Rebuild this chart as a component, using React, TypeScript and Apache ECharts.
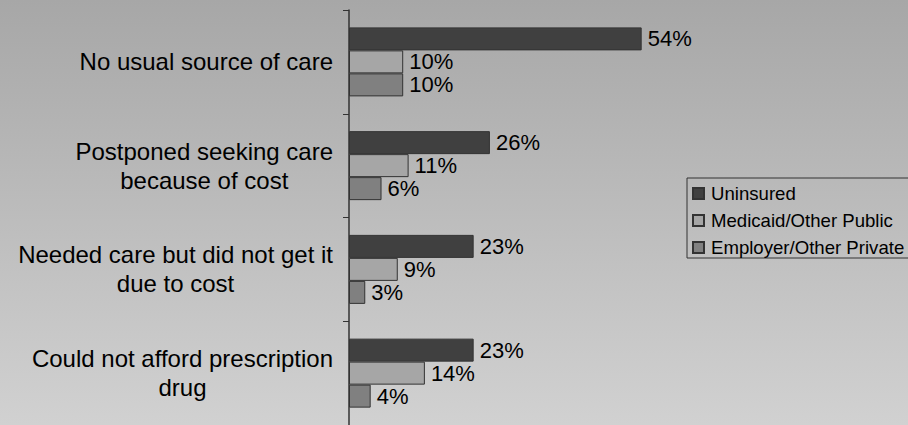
import React, { useEffect, useRef } from "react";
import * as echarts from "echarts";

const categories = [
  "No usual source of care",
  "Postponed seeking care\nbecause of cost",
  "Needed care but did not get it\ndue to cost",
  "Could not afford prescription\ndrug",
];
const seriesNames = ["Uninsured", "Medicaid/Other Public", "Employer/Other Private"];
const uninsured = [54, 26, 23, 23];
const medicaid = [10, 11, 9, 14];
const employer = [10, 6, 3, 4];
const seriesColors = ["#404040", "#a6a6a6", "#808080"];

const FONT = "'Liberation Sans', Arial, sans-serif";

export default function App() {
  const ref = useRef<HTMLDivElement>(null);
  useEffect(() => {
    if (!ref.current) return;
    const chart = echarts.init(ref.current, null, { renderer: "svg" });
    const values = [uninsured, medicaid, employer];
    chart.setOption({
      animation: false,
      backgroundColor: new echarts.graphic.LinearGradient(0, 0, 0, 1, [
        { offset: 0, color: "#a7a7a7" },
        { offset: 1, color: "#d1d1d1" },
      ]),
      textStyle: { fontFamily: FONT },
      grid: { left: 349, top: 10, width: 542, height: 417, containLabel: false },
      legend: {
        orient: "vertical",
        left: 687,
        top: 178,
        padding: [6, 12, 1, 5],
        itemWidth: 11,
        itemHeight: 11,
        itemGap: 8,
        borderColor: "#333333",
        borderWidth: 1,
        icon: "rect",
        textStyle: { fontSize: 18.6, color: "#000", fontFamily: FONT, lineHeight: 19, padding: [0, 0, 0, 2] },
        data: seriesNames,
      },
      xAxis: {
        type: "value",
        min: 0,
        max: 100,
        show: false,
      },
      yAxis: {
        type: "category",
        data: categories,
        inverse: true,
        axisLine: { show: true, lineStyle: { color: "#333333", width: 1.5 } },
        axisTick: { show: true, length: 6, lineStyle: { color: "#333333", width: 1 } },
        axisLabel: {
          margin: 16,
          align: "right",
          color: "#000",
          fontSize: 24,
          fontFamily: FONT,
          lineHeight: 29,
          formatter: (v: string) =>
            v.split("\n").map((l) => `{c|${l}}`).join("\n"),
          rich: {
            c: { align: "center", fontSize: 24, lineHeight: 29, color: "#000", fontFamily: FONT },
          },
        },
        splitLine: { show: false },
      },
      series: seriesNames.map((name, i) => ({
        name,
        type: "bar",
        data: values[i],
        barWidth: 23,
        barGap: "0%",
        itemStyle: { color: seriesColors[i], borderColor: "#333333", borderWidth: 1 },
        label: {
          show: true,
          position: "right",
          distance: 6,
          formatter: "{c}%",
          fontSize: 22,
          color: "#000",
          fontFamily: FONT,
        },
      })),
    });
    return () => chart.dispose();
  }, []);
  return (
    <div
      ref={ref}
      style={{ position: "absolute", left: 0, top: 0, width: 908, height: 425 }}
    />
  );
}
